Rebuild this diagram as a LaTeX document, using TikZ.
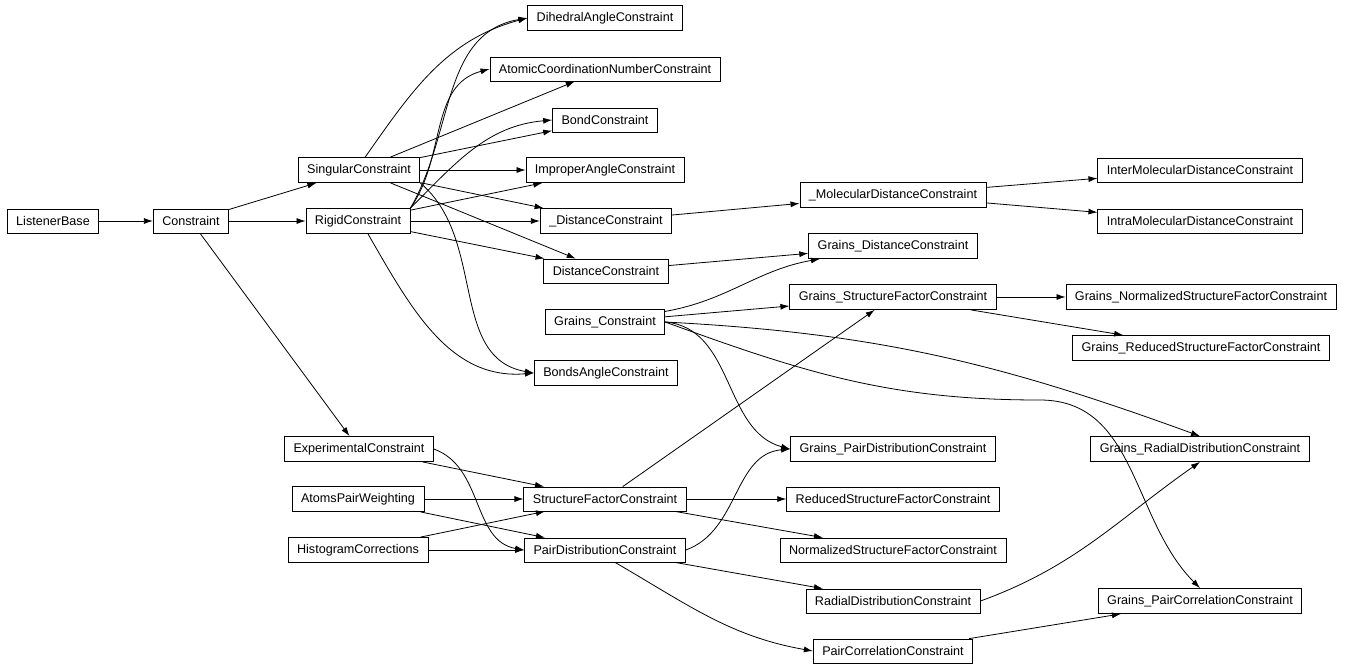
\documentclass[tikz,border=0pt]{standalone}
\usepackage{fontspec}
\setmainfont{Liberation Sans}
\usetikzlibrary{arrows.meta,positioning}
\tikzset{
  cls/.style={draw, rectangle, inner xsep=4.5pt, minimum height=12pt, font=\fontsize{6.3}{7}\selectfont},
  inh/.style={-{Latex[length=4.5pt,width=3pt]}, line width=0.4pt}
}
\begin{document}
\begin{tikzpicture}[x=0.5pt, y=-0.5pt]
    \useasboundingbox (0,0) rectangle (1348,671);
    % first column
    \node[cls] (lb)  at (53,221)  {ListenerBase};
    \node[cls] (con) at (191,221) {Constraint};
    % second column
    \node[cls] (sing) at (359,170) {SingularConstraint};
    \node[cls] (rig)  at (358,221) {RigidConstraint};
    \node[cls] (exp)  at (359,449) {ExperimentalConstraint};
    \node[cls] (apw)  at (358,499) {AtomsPairWeighting};
    \node[cls] (hc)   at (358,550) {HistogramCorrections};
    % third column
    \node[cls] (dih)  at (605,18)  {DihedralAngleConstraint};
    \node[cls] (acn)  at (605,69)  {AtomicCoordinationNumberConstraint};
    \node[cls] (bond) at (605,120) {BondConstraint};
    \node[cls] (imp)  at (605,170) {ImproperAngleConstraint};
    \node[cls] (udc)  at (606,221) {\_DistanceConstraint};
    \node[cls] (dc)   at (606,271) {DistanceConstraint};
    \node[cls] (gc)   at (605,322) {Grains\_Constraint};
    \node[cls] (ba)   at (606,373) {BondsAngleConstraint};
    \node[cls] (sf)   at (605,499) {StructureFactorConstraint};
    \node[cls] (pd)   at (605,550) {PairDistributionConstraint};
    % fourth column
    \node[cls] (umd)  at (893,195) {\_MolecularDistanceConstraint};
    \node[cls] (gdc)  at (893,246) {Grains\_DistanceConstraint};
    \node[cls] (gsf)  at (893,297) {Grains\_StructureFactorConstraint};
    \node[cls] (gpd)  at (893,449) {Grains\_PairDistributionConstraint};
    \node[cls] (rsf)  at (893,499) {ReducedStructureFactorConstraint};
    \node[cls] (nsf)  at (893,550) {NormalizedStructureFactorConstraint};
    \node[cls] (rd)   at (893,601) {RadialDistributionConstraint};
    \node[cls] (pc)   at (893,651) {PairCorrelationConstraint};
    % fifth column
    \node[cls] (inter) at (1200,170) {InterMolecularDistanceConstraint};
    \node[cls] (intra) at (1200,221) {IntraMolecularDistanceConstraint};
    \node[cls] (gnsf)  at (1201,297) {Grains\_NormalizedStructureFactorConstraint};
    \node[cls] (grsf)  at (1201,348) {Grains\_ReducedStructureFactorConstraint};
    \node[cls] (grd)   at (1200,449) {Grains\_RadialDistributionConstraint};
    \node[cls] (gpc)   at (1200,601) {Grains\_PairCorrelationConstraint};

    \draw[inh] (lb) -- (con);
    \draw[inh] (con) -- (sing);
    \draw[inh] (con) -- (rig);
    \draw[inh] (con) -- (exp);
    % singular
    \draw[inh] (sing.north east) ++(-55,0) to[out=55,in=195] (dih.west);
    \draw[inh] (sing) -- (acn);
    \draw[inh] (sing) -- (bond);
    \draw[inh] (sing) -- (imp);
    \draw[inh] (sing) -- (udc);
    \draw[inh] (sing) -- (dc);
    \draw[inh] (sing.south east) to[out=-40,in=170] (ba.west);
    % rigid
    \draw[inh] (rig.north east) to[out=60,in=190] (dih.west);
    \draw[inh] (rig.north east) to[out=55,in=195] (acn.west);
    \draw[inh] (rig.north east) to[out=45,in=185] (bond.west);
    \draw[inh] (rig) -- (imp);
    \draw[inh] (rig) -- (udc);
    \draw[inh] (rig) -- (dc);
    \draw[inh] (rig.south) ++(10,0) to[out=-60,in=185] (ba.west);
    % molecular
    \draw[inh] (udc) -- (umd);
    \draw[inh] (umd) -- (inter);
    \draw[inh] (umd) -- (intra);
    \draw[inh] (dc) -- (gdc);
    % grains
    \draw[inh] (gc) to[out=10,in=190] (gdc);
    \draw[inh] (gc) -- (gsf);
    \draw[inh] (gc.east) to[out=-5,in=165] (gpd.west);
    \draw[inh] (gc.east) to[out=-3,in=160] (grd.north);
    \draw[inh] (gc.east) to[out=-20,in=180] (1040,400) to[out=0,in=135] (gpc.north);
    \draw[inh] (gsf) -- (gnsf);
    \draw[inh] (gsf) -- (grsf);
    % experimental
    \draw[inh] (exp) -- (sf);
    \draw[inh] (exp.east) to[out=-20,in=170] (pd.west);
    \draw[inh] (apw) -- (sf);
    \draw[inh] (apw) -- (pd);
    \draw[inh] (hc) -- (sf);
    \draw[inh] (hc) -- (pd);
    % structure factor and pair distribution
    \draw[inh] (sf) -- (gsf);
    \draw[inh] (sf) -- (rsf);
    \draw[inh] (sf) -- (nsf);
    \draw[inh] (pd.east) to[out=20,in=185] (gpd.west);
    \draw[inh] (pd) -- (rd);
    \draw[inh] (pd.south) ++(10,0) to[out=-30,in=170] (pc.west);
    \draw[inh] (rd.east) to[out=20,in=-145] (grd.south);
    \draw[inh] (pc) -- (gpc);
\end{tikzpicture}
\end{document}
